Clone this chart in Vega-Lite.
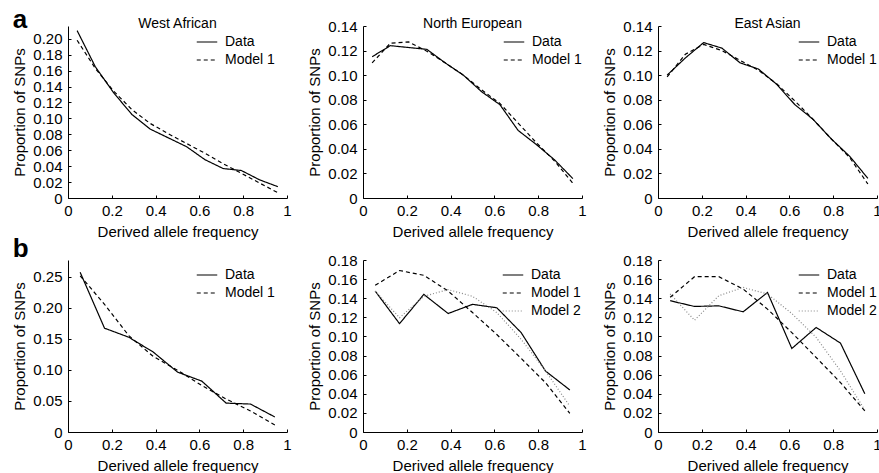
{
  "$schema": "https://vega.github.io/schema/vega-lite/v6.json",
  "padding": {"left": 12, "top": 6, "right": 0, "bottom": 0},
  "background": "white",
  "config": {
    "font": "Liberation Sans",
    "view": {"stroke": null},
    "line": {"strokeWidth": 1.2},
    "axis": {"grid": false, "domainColor": "black", "tickColor": "black", "labelColor": "black", "titleColor": "black", "labelFont": "Liberation Sans", "titleFont": "Liberation Sans", "labelFontSize": 15, "titleFontSize": 15, "titleFontWeight": "normal", "tickSize": -3, "labelFlush": false, "labelOverlap": false},
    "axisY": {"titlePadding": 5, "labelPadding": 9},
    "axisX": {"titlePadding": 5.5, "labelPadding": 8.5},
    "legend": {"orient": "none", "labelFont": "Liberation Sans", "labelFontSize": 14, "labelColor": "black", "symbolType": "stroke", "symbolSize": 420, "symbolStrokeWidth": 1.2, "labelOffset": 7, "rowPadding": -4, "padding": 0},
    "title": {"font": "Liberation Sans", "fontSize": 14, "fontWeight": "normal", "color": "black", "offset": -12}
  },
  "datasets": {
    "a": [
      {"pop": "West African", "series": "Data", "freq": 0.0417, "prop": 0.2102},
      {"pop": "West African", "series": "Data", "freq": 0.125, "prop": 0.1647},
      {"pop": "West African", "series": "Data", "freq": 0.2083, "prop": 0.1322},
      {"pop": "West African", "series": "Data", "freq": 0.2917, "prop": 0.1049},
      {"pop": "West African", "series": "Data", "freq": 0.375, "prop": 0.0866},
      {"pop": "West African", "series": "Data", "freq": 0.4583, "prop": 0.0755},
      {"pop": "West African", "series": "Data", "freq": 0.5417, "prop": 0.0644},
      {"pop": "West African", "series": "Data", "freq": 0.625, "prop": 0.0482},
      {"pop": "West African", "series": "Data", "freq": 0.7083, "prop": 0.037},
      {"pop": "West African", "series": "Data", "freq": 0.7917, "prop": 0.0345},
      {"pop": "West African", "series": "Data", "freq": 0.875, "prop": 0.0228},
      {"pop": "West African", "series": "Data", "freq": 0.9583, "prop": 0.0142},
      {"pop": "West African", "series": "Model 1", "freq": 0.0417, "prop": 0.1981},
      {"pop": "West African", "series": "Model 1", "freq": 0.125, "prop": 0.1626},
      {"pop": "West African", "series": "Model 1", "freq": 0.2083, "prop": 0.1343},
      {"pop": "West African", "series": "Model 1", "freq": 0.2917, "prop": 0.111},
      {"pop": "West African", "series": "Model 1", "freq": 0.375, "prop": 0.0937},
      {"pop": "West African", "series": "Model 1", "freq": 0.4583, "prop": 0.0806},
      {"pop": "West African", "series": "Model 1", "freq": 0.5417, "prop": 0.0684},
      {"pop": "West African", "series": "Model 1", "freq": 0.625, "prop": 0.0563},
      {"pop": "West African", "series": "Model 1", "freq": 0.7083, "prop": 0.0431},
      {"pop": "West African", "series": "Model 1", "freq": 0.7917, "prop": 0.031},
      {"pop": "West African", "series": "Model 1", "freq": 0.875, "prop": 0.0188},
      {"pop": "West African", "series": "Model 1", "freq": 0.9583, "prop": 0.0066},
      {"pop": "North European", "series": "Data", "freq": 0.0417, "prop": 0.115},
      {"pop": "North European", "series": "Data", "freq": 0.125, "prop": 0.124},
      {"pop": "North European", "series": "Data", "freq": 0.2083, "prop": 0.1225},
      {"pop": "North European", "series": "Data", "freq": 0.2917, "prop": 0.121},
      {"pop": "North European", "series": "Data", "freq": 0.375, "prop": 0.11},
      {"pop": "North European", "series": "Data", "freq": 0.4583, "prop": 0.1},
      {"pop": "North European", "series": "Data", "freq": 0.5417, "prop": 0.0865},
      {"pop": "North European", "series": "Data", "freq": 0.625, "prop": 0.076},
      {"pop": "North European", "series": "Data", "freq": 0.7083, "prop": 0.055},
      {"pop": "North European", "series": "Data", "freq": 0.7917, "prop": 0.0435},
      {"pop": "North European", "series": "Data", "freq": 0.875, "prop": 0.031},
      {"pop": "North European", "series": "Data", "freq": 0.9583, "prop": 0.0158},
      {"pop": "North European", "series": "Model 1", "freq": 0.0417, "prop": 0.11},
      {"pop": "North European", "series": "Model 1", "freq": 0.125, "prop": 0.126},
      {"pop": "North European", "series": "Model 1", "freq": 0.2083, "prop": 0.127},
      {"pop": "North European", "series": "Model 1", "freq": 0.2917, "prop": 0.1195},
      {"pop": "North European", "series": "Model 1", "freq": 0.375, "prop": 0.11},
      {"pop": "North European", "series": "Model 1", "freq": 0.4583, "prop": 0.1},
      {"pop": "North European", "series": "Model 1", "freq": 0.5417, "prop": 0.088},
      {"pop": "North European", "series": "Model 1", "freq": 0.625, "prop": 0.077},
      {"pop": "North European", "series": "Model 1", "freq": 0.7083, "prop": 0.061},
      {"pop": "North European", "series": "Model 1", "freq": 0.7917, "prop": 0.045},
      {"pop": "North European", "series": "Model 1", "freq": 0.875, "prop": 0.03},
      {"pop": "North European", "series": "Model 1", "freq": 0.9583, "prop": 0.012},
      {"pop": "East Asian", "series": "Data", "freq": 0.0417, "prop": 0.1},
      {"pop": "East Asian", "series": "Data", "freq": 0.125, "prop": 0.114},
      {"pop": "East Asian", "series": "Data", "freq": 0.2083, "prop": 0.1265},
      {"pop": "East Asian", "series": "Data", "freq": 0.2917, "prop": 0.122},
      {"pop": "East Asian", "series": "Data", "freq": 0.375, "prop": 0.11},
      {"pop": "East Asian", "series": "Data", "freq": 0.4583, "prop": 0.105},
      {"pop": "East Asian", "series": "Data", "freq": 0.5417, "prop": 0.0926},
      {"pop": "East Asian", "series": "Data", "freq": 0.625, "prop": 0.076},
      {"pop": "East Asian", "series": "Data", "freq": 0.7083, "prop": 0.064},
      {"pop": "East Asian", "series": "Data", "freq": 0.7917, "prop": 0.048},
      {"pop": "East Asian", "series": "Data", "freq": 0.875, "prop": 0.034},
      {"pop": "East Asian", "series": "Data", "freq": 0.9583, "prop": 0.016},
      {"pop": "East Asian", "series": "Model 1", "freq": 0.0417, "prop": 0.0985},
      {"pop": "East Asian", "series": "Model 1", "freq": 0.125, "prop": 0.117},
      {"pop": "East Asian", "series": "Model 1", "freq": 0.2083, "prop": 0.125},
      {"pop": "East Asian", "series": "Model 1", "freq": 0.2917, "prop": 0.12},
      {"pop": "East Asian", "series": "Model 1", "freq": 0.375, "prop": 0.112},
      {"pop": "East Asian", "series": "Model 1", "freq": 0.4583, "prop": 0.104},
      {"pop": "East Asian", "series": "Model 1", "freq": 0.5417, "prop": 0.093},
      {"pop": "East Asian", "series": "Model 1", "freq": 0.625, "prop": 0.079},
      {"pop": "East Asian", "series": "Model 1", "freq": 0.7083, "prop": 0.064},
      {"pop": "East Asian", "series": "Model 1", "freq": 0.7917, "prop": 0.048},
      {"pop": "East Asian", "series": "Model 1", "freq": 0.875, "prop": 0.033},
      {"pop": "East Asian", "series": "Model 1", "freq": 0.9583, "prop": 0.0114}
    ],
    "b": [
      {"pop": "West African", "series": "Data", "freq": 0.0556, "prop": 0.2571},
      {"pop": "West African", "series": "Data", "freq": 0.1667, "prop": 0.1672},
      {"pop": "West African", "series": "Data", "freq": 0.2778, "prop": 0.1526},
      {"pop": "West African", "series": "Data", "freq": 0.3889, "prop": 0.1288},
      {"pop": "West African", "series": "Data", "freq": 0.5, "prop": 0.0965},
      {"pop": "West African", "series": "Data", "freq": 0.6111, "prop": 0.0819},
      {"pop": "West African", "series": "Data", "freq": 0.7222, "prop": 0.0465},
      {"pop": "West African", "series": "Data", "freq": 0.8333, "prop": 0.045},
      {"pop": "West African", "series": "Data", "freq": 0.9444, "prop": 0.0242},
      {"pop": "West African", "series": "Model 1", "freq": 0.0556, "prop": 0.2516},
      {"pop": "West African", "series": "Model 1", "freq": 0.1667, "prop": 0.2056},
      {"pop": "West African", "series": "Model 1", "freq": 0.2778, "prop": 0.1551},
      {"pop": "West African", "series": "Model 1", "freq": 0.3889, "prop": 0.1218},
      {"pop": "West African", "series": "Model 1", "freq": 0.5, "prop": 0.0995},
      {"pop": "West African", "series": "Model 1", "freq": 0.6111, "prop": 0.0748},
      {"pop": "West African", "series": "Model 1", "freq": 0.7222, "prop": 0.0531},
      {"pop": "West African", "series": "Model 1", "freq": 0.8333, "prop": 0.0339},
      {"pop": "West African", "series": "Model 1", "freq": 0.9444, "prop": 0.0112},
      {"pop": "North European", "series": "Data", "freq": 0.0556, "prop": 0.1475},
      {"pop": "North European", "series": "Data", "freq": 0.1667, "prop": 0.1134},
      {"pop": "North European", "series": "Data", "freq": 0.2778, "prop": 0.144},
      {"pop": "North European", "series": "Data", "freq": 0.3889, "prop": 0.124},
      {"pop": "North European", "series": "Data", "freq": 0.5, "prop": 0.1336},
      {"pop": "North European", "series": "Data", "freq": 0.6111, "prop": 0.13},
      {"pop": "North European", "series": "Data", "freq": 0.7222, "prop": 0.104},
      {"pop": "North European", "series": "Data", "freq": 0.8333, "prop": 0.0638},
      {"pop": "North European", "series": "Data", "freq": 0.9444, "prop": 0.044},
      {"pop": "North European", "series": "Model 1", "freq": 0.0556, "prop": 0.1535},
      {"pop": "North European", "series": "Model 1", "freq": 0.1667, "prop": 0.169},
      {"pop": "North European", "series": "Model 1", "freq": 0.2778, "prop": 0.164},
      {"pop": "North European", "series": "Model 1", "freq": 0.3889, "prop": 0.1475},
      {"pop": "North European", "series": "Model 1", "freq": 0.5, "prop": 0.125},
      {"pop": "North European", "series": "Model 1", "freq": 0.6111, "prop": 0.102},
      {"pop": "North European", "series": "Model 1", "freq": 0.7222, "prop": 0.077},
      {"pop": "North European", "series": "Model 1", "freq": 0.8333, "prop": 0.0516},
      {"pop": "North European", "series": "Model 1", "freq": 0.9444, "prop": 0.0195},
      {"pop": "North European", "series": "Model 2", "freq": 0.0556, "prop": 0.1475},
      {"pop": "North European", "series": "Model 2", "freq": 0.1667, "prop": 0.1196},
      {"pop": "North European", "series": "Model 2", "freq": 0.2778, "prop": 0.142},
      {"pop": "North European", "series": "Model 2", "freq": 0.3889, "prop": 0.149},
      {"pop": "North European", "series": "Model 2", "freq": 0.5, "prop": 0.142},
      {"pop": "North European", "series": "Model 2", "freq": 0.6111, "prop": 0.125},
      {"pop": "North European", "series": "Model 2", "freq": 0.7222, "prop": 0.097},
      {"pop": "North European", "series": "Model 2", "freq": 0.8333, "prop": 0.064},
      {"pop": "North European", "series": "Model 2", "freq": 0.9444, "prop": 0.027},
      {"pop": "East Asian", "series": "Data", "freq": 0.0556, "prop": 0.1374},
      {"pop": "East Asian", "series": "Data", "freq": 0.1667, "prop": 0.1314},
      {"pop": "East Asian", "series": "Data", "freq": 0.2778, "prop": 0.132},
      {"pop": "East Asian", "series": "Data", "freq": 0.3889, "prop": 0.1258},
      {"pop": "East Asian", "series": "Data", "freq": 0.5, "prop": 0.146},
      {"pop": "East Asian", "series": "Data", "freq": 0.6111, "prop": 0.0874},
      {"pop": "East Asian", "series": "Data", "freq": 0.7222, "prop": 0.1094},
      {"pop": "East Asian", "series": "Data", "freq": 0.8333, "prop": 0.093},
      {"pop": "East Asian", "series": "Data", "freq": 0.9444, "prop": 0.04},
      {"pop": "East Asian", "series": "Model 1", "freq": 0.0556, "prop": 0.141},
      {"pop": "East Asian", "series": "Model 1", "freq": 0.1667, "prop": 0.1625},
      {"pop": "East Asian", "series": "Model 1", "freq": 0.2778, "prop": 0.1625},
      {"pop": "East Asian", "series": "Model 1", "freq": 0.3889, "prop": 0.1496},
      {"pop": "East Asian", "series": "Model 1", "freq": 0.5, "prop": 0.1286},
      {"pop": "East Asian", "series": "Model 1", "freq": 0.6111, "prop": 0.104},
      {"pop": "East Asian", "series": "Model 1", "freq": 0.7222, "prop": 0.078},
      {"pop": "East Asian", "series": "Model 1", "freq": 0.8333, "prop": 0.0517},
      {"pop": "East Asian", "series": "Model 1", "freq": 0.9444, "prop": 0.022},
      {"pop": "East Asian", "series": "Model 2", "freq": 0.0556, "prop": 0.1444},
      {"pop": "East Asian", "series": "Model 2", "freq": 0.1667, "prop": 0.117},
      {"pop": "East Asian", "series": "Model 2", "freq": 0.2778, "prop": 0.1426},
      {"pop": "East Asian", "series": "Model 2", "freq": 0.3889, "prop": 0.1513},
      {"pop": "East Asian", "series": "Model 2", "freq": 0.5, "prop": 0.1444},
      {"pop": "East Asian", "series": "Model 2", "freq": 0.6111, "prop": 0.124},
      {"pop": "East Asian", "series": "Model 2", "freq": 0.7222, "prop": 0.099},
      {"pop": "East Asian", "series": "Model 2", "freq": 0.8333, "prop": 0.064},
      {"pop": "East Asian", "series": "Model 2", "freq": 0.9444, "prop": 0.023}
    ]
  },
  "vconcat": [
    {
      "title": {"text": "a", "anchor": "start", "frame": "bounds", "fontSize": 26, "fontWeight": "bold", "offset": -16},
      "spacing": 15,
      "hconcat": [
        {
          "title": {"text": "West African", "offset": -4.5}, "width": 219, "height": 172,
          "data": {"name": "a"},
          "transform": [{"filter": "datum.pop == 'West African'"}],
          "mark": {"type": "line"},
          "encoding": {
            "x": {"field": "freq", "type": "quantitative", "scale": {"domain": [0, 1], "nice": false}, "axis": {"title": "Derived allele frequency", "values": [0, 0.2, 0.4, 0.6, 0.8, 1], "labelExpr": "datum.value == 0 ? '0' : datum.value == 1 ? '1' : format(datum.value, '.1f')"}},
            "y": {"field": "prop", "type": "quantitative", "scale": {"domain": [0, 0.216], "nice": false}, "axis": {"title": "Proportion of SNPs", "values": [0, 0.02, 0.04, 0.06, 0.08, 0.1, 0.12, 0.14, 0.16, 0.18, 0.2], "labelExpr": "datum.value == 0 ? '0' : format(datum.value, '.2f')"}},
            "color": {"field": "series", "type": "nominal", "scale": {"domain": ["Data", "Model 1"], "range": ["black", "black"]}, "legend": {"title": null, "legendX": 128, "legendY": 5}},
            "strokeDash": {"field": "series", "type": "nominal", "scale": {"domain": ["Data", "Model 1"], "range": [[1, 0], [4, 3]]}, "legend": {"title": null, "legendX": 128, "legendY": 5}}
          }
        },
        {
          "title": "North European", "width": 219, "height": 172,
          "data": {"name": "a"},
          "transform": [{"filter": "datum.pop == 'North European'"}],
          "mark": {"type": "line"},
          "encoding": {
            "x": {"field": "freq", "type": "quantitative", "scale": {"domain": [0, 1], "nice": false}, "axis": {"title": "Derived allele frequency", "values": [0, 0.2, 0.4, 0.6, 0.8, 1], "labelExpr": "datum.value == 0 ? '0' : datum.value == 1 ? '1' : format(datum.value, '.1f')"}},
            "y": {"field": "prop", "type": "quantitative", "scale": {"domain": [0, 0.14], "nice": false}, "axis": {"title": "Proportion of SNPs", "values": [0, 0.02, 0.04, 0.06, 0.08, 0.1, 0.12, 0.14], "labelExpr": "datum.value == 0 ? '0' : format(datum.value, '.2f')"}},
            "color": {"field": "series", "type": "nominal", "scale": {"domain": ["Data", "Model 1"], "range": ["black", "black"]}, "legend": {"title": null, "legendX": 140, "legendY": 5}},
            "strokeDash": {"field": "series", "type": "nominal", "scale": {"domain": ["Data", "Model 1"], "range": [[1, 0], [4, 3]]}, "legend": {"title": null, "legendX": 140, "legendY": 5}}
          }
        },
        {
          "title": "East Asian", "width": 219, "height": 172,
          "data": {"name": "a"},
          "transform": [{"filter": "datum.pop == 'East Asian'"}],
          "mark": {"type": "line"},
          "encoding": {
            "x": {"field": "freq", "type": "quantitative", "scale": {"domain": [0, 1], "nice": false}, "axis": {"title": "Derived allele frequency", "values": [0, 0.2, 0.4, 0.6, 0.8, 1], "labelExpr": "datum.value == 0 ? '0' : datum.value == 1 ? '1' : format(datum.value, '.1f')"}},
            "y": {"field": "prop", "type": "quantitative", "scale": {"domain": [0, 0.14], "nice": false}, "axis": {"title": "Proportion of SNPs", "values": [0, 0.02, 0.04, 0.06, 0.08, 0.1, 0.12, 0.14], "labelExpr": "datum.value == 0 ? '0' : format(datum.value, '.2f')"}},
            "color": {"field": "series", "type": "nominal", "scale": {"domain": ["Data", "Model 1"], "range": ["black", "black"]}, "legend": {"title": null, "legendX": 140, "legendY": 5}},
            "strokeDash": {"field": "series", "type": "nominal", "scale": {"domain": ["Data", "Model 1"], "range": [[1, 0], [4, 3]]}, "legend": {"title": null, "legendX": 140, "legendY": 5}}
          }
        }
      ],
      "resolve": {"scale": {"color": "independent", "strokeDash": "independent"}, "legend": {"color": "independent", "strokeDash": "independent"}}
    },
    {
      "title": {"text": "b", "anchor": "start", "frame": "bounds", "fontSize": 26, "fontWeight": "bold", "offset": -9},
      "spacing": 15,
      "hconcat": [
        {
          "width": 219, "height": 172,
          "data": {"name": "b"},
          "transform": [{"filter": "datum.pop == 'West African'"}],
          "mark": {"type": "line"},
          "encoding": {
            "x": {"field": "freq", "type": "quantitative", "scale": {"domain": [0, 1], "nice": false}, "axis": {"title": "Derived allele frequency", "values": [0, 0.2, 0.4, 0.6, 0.8, 1], "labelExpr": "datum.value == 0 ? '0' : datum.value == 1 ? '1' : format(datum.value, '.1f')"}},
            "y": {"field": "prop", "type": "quantitative", "scale": {"domain": [0, 0.277], "nice": false}, "axis": {"title": "Proportion of SNPs", "values": [0, 0.05, 0.1, 0.15, 0.2, 0.25], "labelExpr": "datum.value == 0 ? '0' : format(datum.value, '.2f')"}},
            "color": {"field": "series", "type": "nominal", "scale": {"domain": ["Data", "Model 1"], "range": ["black", "black"]}, "legend": {"title": null, "legendX": 128, "legendY": 4}},
            "strokeDash": {"field": "series", "type": "nominal", "scale": {"domain": ["Data", "Model 1"], "range": [[1, 0], [4, 3]]}, "legend": {"title": null, "legendX": 128, "legendY": 4}}
          }
        },
        {
          "width": 219, "height": 172,
          "data": {"name": "b"},
          "transform": [{"filter": "datum.pop == 'North European'"}],
          "mark": {"type": "line"},
          "encoding": {
            "x": {"field": "freq", "type": "quantitative", "scale": {"domain": [0, 1], "nice": false}, "axis": {"title": "Derived allele frequency", "values": [0, 0.2, 0.4, 0.6, 0.8, 1], "labelExpr": "datum.value == 0 ? '0' : datum.value == 1 ? '1' : format(datum.value, '.1f')"}},
            "y": {"field": "prop", "type": "quantitative", "scale": {"domain": [0, 0.18], "nice": false}, "axis": {"title": "Proportion of SNPs", "values": [0, 0.02, 0.04, 0.06, 0.08, 0.1, 0.12, 0.14, 0.16, 0.18], "labelExpr": "datum.value == 0 ? '0' : format(datum.value, '.2f')"}},
            "color": {"field": "series", "type": "nominal", "scale": {"domain": ["Data", "Model 1", "Model 2"], "range": ["black", "black", "#888888"]}, "legend": {"title": null, "legendX": 139, "legendY": 4}},
            "strokeDash": {"field": "series", "type": "nominal", "scale": {"domain": ["Data", "Model 1", "Model 2"], "range": [[1, 0], [4, 3], [1, 2]]}, "legend": {"title": null, "legendX": 139, "legendY": 4}}
          }
        },
        {
          "width": 219, "height": 172,
          "data": {"name": "b"},
          "transform": [{"filter": "datum.pop == 'East Asian'"}],
          "mark": {"type": "line"},
          "encoding": {
            "x": {"field": "freq", "type": "quantitative", "scale": {"domain": [0, 1], "nice": false}, "axis": {"title": "Derived allele frequency", "values": [0, 0.2, 0.4, 0.6, 0.8, 1], "labelExpr": "datum.value == 0 ? '0' : datum.value == 1 ? '1' : format(datum.value, '.1f')"}},
            "y": {"field": "prop", "type": "quantitative", "scale": {"domain": [0, 0.18], "nice": false}, "axis": {"title": "Proportion of SNPs", "values": [0, 0.02, 0.04, 0.06, 0.08, 0.1, 0.12, 0.14, 0.16, 0.18], "labelExpr": "datum.value == 0 ? '0' : format(datum.value, '.2f')"}},
            "color": {"field": "series", "type": "nominal", "scale": {"domain": ["Data", "Model 1", "Model 2"], "range": ["black", "black", "#888888"]}, "legend": {"title": null, "legendX": 140, "legendY": 4}},
            "strokeDash": {"field": "series", "type": "nominal", "scale": {"domain": ["Data", "Model 1", "Model 2"], "range": [[1, 0], [4, 3], [1, 2]]}, "legend": {"title": null, "legendX": 140, "legendY": 4}}
          }
        }
      ],
      "resolve": {"scale": {"color": "independent", "strokeDash": "independent"}, "legend": {"color": "independent", "strokeDash": "independent"}}
    }
  ],
  "spacing": -3,
  "resolve": {"scale": {"color": "independent", "strokeDash": "independent"}, "legend": {"color": "independent", "strokeDash": "independent"}}
}
